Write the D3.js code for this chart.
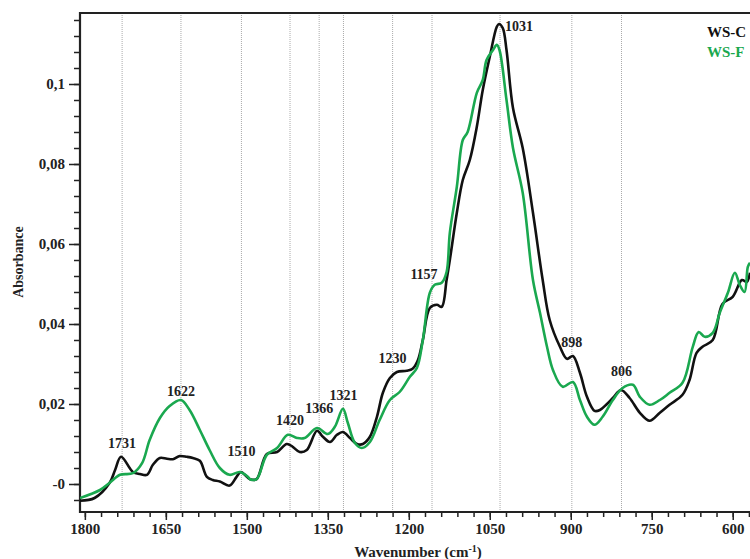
<!DOCTYPE html>
<html>
<head>
<meta charset="utf-8">
<script src="https://cdn.jsdelivr.net/npm/d3@7"></script>
<style>
  body { margin: 0; background: #fff; }
  text { font-family: "Liberation Serif", "Times New Roman", serif; font-weight: bold; }
</style>
</head>
<body>
<div id="chart"></div>
<script>
// WS-C spectrum, [wavenumber, absorbance]
var wsC = [
  [1809, -0.0042], [1782, -0.0035], [1754, 0.0003], [1744, 0.0035], [1733, 0.0068],
  [1711, 0.0030], [1698, 0.0025], [1685, 0.0023], [1674, 0.0048], [1661, 0.0065],
  [1648, 0.0063], [1637, 0.0062], [1624, 0.0070], [1611, 0.0068], [1600, 0.0065],
  [1587, 0.0058], [1574, 0.0018], [1563, 0.0010], [1550, 0.0006], [1532, -0.0004],
  [1519, 0.0018], [1511, 0.0030], [1500, 0.0018], [1494, 0.0012], [1482, 0.0012],
  [1463, 0.0075], [1444, 0.0080], [1426, 0.0100], [1415, 0.0093], [1402, 0.0080],
  [1389, 0.0085], [1370, 0.0133], [1359, 0.0118], [1346, 0.0105], [1333, 0.0123],
  [1322, 0.0130], [1309, 0.0115], [1296, 0.0100], [1285, 0.0100], [1272, 0.0118],
  [1259, 0.0168], [1248, 0.0228], [1235, 0.0265], [1222, 0.0280], [1204, 0.0283],
  [1193, 0.0288], [1183, 0.0310], [1174, 0.0360], [1161, 0.0440], [1148, 0.0448],
  [1139, 0.0443], [1130, 0.0510], [1124, 0.0560], [1111, 0.0678], [1100, 0.0760],
  [1087, 0.0810], [1074, 0.0893], [1063, 0.0985], [1050, 0.1068], [1037, 0.1143],
  [1033, 0.1150], [1026, 0.1140], [1019, 0.1085], [1007, 0.0940], [989, 0.0840],
  [970, 0.0678], [952, 0.0510], [939, 0.0410], [920, 0.0343], [907, 0.0313],
  [896, 0.0320], [883, 0.0278], [870, 0.0218], [856, 0.0183], [846, 0.0185],
  [833, 0.0200], [822, 0.0215], [807, 0.0235], [791, 0.0215], [772, 0.0178],
  [754, 0.0158], [735, 0.0178], [717, 0.0198], [693, 0.0223], [680, 0.0260],
  [667, 0.0328], [656, 0.0343], [637, 0.0360], [619, 0.0450], [600, 0.0468],
  [583, 0.0510], [574, 0.0505], [568, 0.0528]
];

// WS-F spectrum, [wavenumber, absorbance]
var wsF = [
  [1809, -0.0035], [1772, -0.0015], [1754, 0.0003], [1735, 0.0023], [1711, 0.0027],
  [1694, 0.0052], [1680, 0.0110], [1661, 0.0165], [1643, 0.0195], [1622, 0.0210],
  [1606, 0.0185], [1587, 0.0135], [1569, 0.0085], [1550, 0.0040], [1532, 0.0023],
  [1513, 0.0030], [1498, 0.0018], [1494, 0.0012], [1482, 0.0012], [1463, 0.0073],
  [1444, 0.0090], [1424, 0.0123], [1407, 0.0115], [1393, 0.0115], [1370, 0.0140],
  [1350, 0.0125], [1337, 0.0143], [1322, 0.0188], [1313, 0.0153], [1300, 0.0103],
  [1287, 0.0090], [1272, 0.0105], [1254, 0.0160], [1235, 0.0210], [1217, 0.0230],
  [1198, 0.0268], [1185, 0.0290], [1174, 0.0360], [1161, 0.0478], [1152, 0.0498],
  [1139, 0.0503], [1130, 0.0530], [1124, 0.0628], [1111, 0.0743], [1100, 0.0860],
  [1091, 0.0880], [1074, 0.0978], [1063, 0.1010], [1056, 0.1060], [1044, 0.1085],
  [1037, 0.1098], [1032, 0.1085], [1019, 0.0960], [1007, 0.0840], [989, 0.0728],
  [970, 0.0510], [957, 0.0428], [944, 0.0343], [933, 0.0285], [915, 0.0243],
  [896, 0.0255], [883, 0.0210], [870, 0.0168], [856, 0.0148], [841, 0.0168],
  [822, 0.0210], [804, 0.0240], [785, 0.0248], [772, 0.0218], [754, 0.0198],
  [735, 0.0210], [717, 0.0228], [693, 0.0253], [674, 0.0343], [663, 0.0380],
  [652, 0.0368], [637, 0.0378], [624, 0.0428], [609, 0.0478], [596, 0.0528],
  [587, 0.0498], [578, 0.0480], [572, 0.0543], [568, 0.0553]
];

var peakWn = [1731, 1622, 1510, 1420, 1366, 1321, 1230, 1157, 1031, 898, 806];
var peakLabelAbs = [0.0102, 0.0232, 0.0082, 0.0160, 0.0190, 0.0222, 0.0315, 0.0525, 0.1145, 0.0355, 0.0282];

var xTicks = [1800, 1650, 1500, 1350, 1200, 1050, 900, 750, 600];
var yTicks = [0, 0.02, 0.04, 0.06, 0.08, 0.1];
var yTickLabels = ['-0', '0,02', '0,04', '0,06', '0,08', '0,1'];

var seriesNames = ['WS-C', 'WS-F'];
var seriesColors = ['#111111', '#1aa84f'];

var width = 750, height = 559;
var margin = { left: 80, right: 750, top: 13, bottom: 512 };

var svg = d3.select('#chart').append('svg')
    .attr('width', width)
    .attr('height', height);

var x = d3.scaleLinear().domain([1809, 568]).range([margin.left, margin.right]);
var y = d3.scaleLinear().domain([-0.007, 0.11775]).range([margin.bottom, margin.top]);

svg.append('clipPath').attr('id', 'plot')
    .append('rect')
    .attr('x', margin.left).attr('y', margin.top)
    .attr('width', margin.right - margin.left).attr('height', margin.bottom - margin.top);

// dotted guide lines at the marked peaks
svg.append('g').selectAll('line')
    .data(peakWn)
    .enter().append('line')
    .attr('x1', d => x(d)).attr('x2', d => x(d))
    .attr('y1', margin.top).attr('y2', margin.bottom)
    .style('stroke', '#aaa')
    .style('stroke-width', 1)
    .style('stroke-dasharray', '1,1');

// axes
var xAxis = d3.axisBottom(x).tickValues(xTicks).tickSize(8).tickPadding(3).tickFormat(d3.format('d'));
var xMinor = d3.axisBottom(x).tickValues(d3.range(1800, 565, -30)).tickSize(5).tickFormat('');
var yAxis = d3.axisLeft(y).tickValues(yTicks).tickSize(11).tickPadding(4).tickFormat((d, i) => yTickLabels[i]);
var yMinor = d3.axisLeft(y).tickValues(d3.range(-0.004, 0.117, 0.004)).tickSize(6).tickFormat('');

function styleAxis(g) {
  g.select('.domain').remove();
  g.selectAll('line').style('stroke', '#222').style('stroke-width', 1.5);
  g.selectAll('text').style('font-size', '15px').style('fill', '#222');
}

svg.append('g').attr('transform', 'translate(0,' + margin.bottom + ')').call(xMinor).call(styleAxis);
svg.append('g').attr('transform', 'translate(0,' + margin.bottom + ')').call(xAxis).call(styleAxis);
svg.append('g').attr('transform', 'translate(' + margin.left + ',0)').call(yMinor).call(styleAxis);
svg.append('g').attr('transform', 'translate(' + margin.left + ',0)').call(yAxis).call(styleAxis);

// frame
svg.append('path')
    .attr('d', 'M' + margin.right + ',' + margin.top + 'H' + margin.left + 'V' + margin.bottom + 'H' + margin.right)
    .style('fill', 'none')
    .style('stroke', '#222')
    .style('stroke-width', 2.2);

// spectra
var line = d3.line()
    .x(d => x(d[0]))
    .y(d => y(d[1]))
    .curve(d3.curveCatmullRom.alpha(0.5));

var plot = svg.append('g').attr('clip-path', 'url(#plot)');
[wsC, wsF].forEach(function(s, i) {
  plot.append('path')
      .datum(s)
      .attr('d', line)
      .style('fill', 'none')
      .style('stroke', seriesColors[i])
      .style('stroke-width', 2.6)
      .style('stroke-linejoin', 'round');
});

// peak labels
svg.append('g').selectAll('text')
    .data(peakWn)
    .enter().append('text')
    .attr('x', d => d === 1031 ? x(d) + 5 : (d === 1157 ? x(d) - 8 : x(d)))
    .attr('y', (d, i) => y(peakLabelAbs[i]) + 5)
    .attr('text-anchor', d => d === 1031 ? 'start' : 'middle')
    .style('font-size', '14px')
    .style('fill', '#222')
    .text(d => d);

// legend
svg.append('g').selectAll('text')
    .data(seriesNames)
    .enter().append('text')
    .attr('x', 707)
    .attr('y', (d, i) => 37 + i * 20)
    .style('font-size', '15px')
    .style('fill', (d, i) => seriesColors[i])
    .text(d => d);

// axis titles
var xt = svg.append('text')
    .attr('x', 418)
    .attr('y', 557)
    .attr('text-anchor', 'middle')
    .style('font-size', '15px')
    .style('fill', '#222');
xt.append('tspan').text('Wavenumber (cm');
xt.append('tspan').attr('dy', -5).style('font-size', '10px').text('-1');
xt.append('tspan').attr('dy', 5).text(')');

svg.append('text')
    .attr('transform', 'translate(23,262) rotate(-90)')
    .attr('text-anchor', 'middle')
    .style('font-size', '14px')
    .style('fill', '#222')
    .text('Absorbance');
</script>
</body>
</html>
